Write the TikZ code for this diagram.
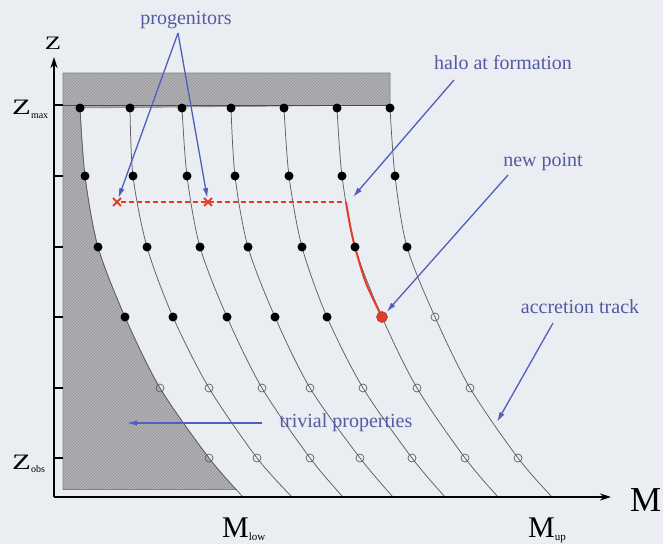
\documentclass[tikz,border=0pt]{standalone}
\usepackage{fontspec}
\setmainfont{Liberation Serif}
\usetikzlibrary{arrows.meta,shapes.misc,patterns}
\definecolor{bg}{RGB}{234,238,242}
\definecolor{lbl}{RGB}{84,90,162}
\definecolor{arr}{RGB}{80,94,188}
\definecolor{rd}{RGB}{222,62,42}
\definecolor{shade}{RGB}{178,178,182}
\definecolor{hatch}{RGB}{150,150,154}
\definecolor{trk}{RGB}{95,95,95}
\begin{document}
\begin{tikzpicture}[x=1pt,y=-1pt,
  dotb/.style={circle,fill=black,inner sep=0pt,minimum size=9pt},
  dotw/.style={circle,draw=trk,line width=0.7pt,inner sep=0pt,minimum size=8pt},
  dotr/.style={circle,fill=rd,draw=rd!80!black,line width=0.5pt,inner sep=0pt,minimum size=11pt},
  crossr/.style={cross out,draw=rd,line width=1.8pt,inner sep=0pt,minimum size=6pt},
  track/.style={draw=trk,line width=0.75pt},
  lbltext/.style={text=lbl,font=\fontsize{20}{20}\selectfont,inner sep=0pt},
  barrow/.style={draw=arr,line width=1.3pt,-{Latex[length=10pt,width=5.5pt]}},
  axisline/.style={line width=2pt,-{Stealth[length=11pt,width=7pt]}},
  tick/.style={line width=1.6pt},
  shadepath/.style={fill=shade,draw=gray,line width=0.6pt}]
\fill[bg] (0,0) rectangle (663,544);
\useasboundingbox (0,0) rectangle (663,544);
% shaded excluded region
\begin{scope}
\clip (60,70) rectangle (400,489);
\path[shadepath] (63,73) -- (390,73) -- (390,105) -- (80,108) -- plot[smooth] coordinates {(80,108) (85,176) (98,247) (125,317) (160,388) (209,458) (243,497)} -- (63,497) -- cycle;
\path[pattern=north east lines,pattern color=hatch] (63,73) -- (390,73) -- (390,105) -- (80,108) -- plot[smooth] coordinates {(80,108) (85,176) (98,247) (125,317) (160,388) (209,458) (243,497)} -- (63,497) -- cycle;
\end{scope}
\draw[gray,line width=0.6pt] (63,489) -- (237,489);
\draw[black!70,line width=0.8pt] (63,105) -- (390,105);
% tracks
\draw[track] plot[smooth] coordinates {(80,108) (85,176) (98,247) (125,317) (160,388) (209,458) (243,497)};
\draw[track] plot[smooth] coordinates {(130,108) (133,176) (147,247) (173,317) (209,388) (257,458) (292,497)};
\draw[track] plot[smooth] coordinates {(182,108) (187,176) (200,247) (227,317) (262,388) (310,458) (343,497)};
\draw[track] plot[smooth] coordinates {(231,108) (235,176) (248,247) (275,317) (310,388) (360,458) (393,497)};
\draw[track] plot[smooth] coordinates {(284,108) (289,176) (302,247) (327,317) (363,388) (412,458) (445,497)};
\draw[track] plot[smooth] coordinates {(337,108) (342,176) (355,247) (382,317) (417,388) (465,458) (498,497)};
\draw[track] plot[smooth] coordinates {(390,108) (395,176) (407,247) (435,317) (470,388) (518,458) (552,497)};
% red formation segment
\coordinate (junc) at (346,202);
\draw[rd,line width=2pt] plot[smooth] coordinates {(346,202) (350,225) (355,247) (366,283) (382,317)};
% filled dots
\foreach \x/\y/\n in {80/108/d11,130/108/d21,182/108/d31,231/108/d41,284/108/d51,337/108/d61,390/108/d71,
  85/176/d12,133/176/d22,187/176/d32,235/176/d42,289/176/d52,342/176/d62,395/176/d72,
  98/247/d13,147/247/d23,200/247/d33,248/247/d43,302/247/d53,355/247/d63,407/247/d73,
  125/317/d14,173/317/d24,227/317/d34,275/317/d44,327/317/d54}
  \node[dotb] (\n) at (\x,\y) {};
% open circles
\foreach \x/\y/\n in {435/317/d74,
  160/388/d15,209/388/d25,262/388/d35,310/388/d45,363/388/d55,417/388/d65,470/388/d75,
  209/458/d16,257/458/d26,310/458/d36,360/458/d46,412/458/d56,465/458/d66,518/458/d76}
  \node[dotw] (\n) at (\x,\y) {};
\node[dotr] (nd) at (382,317) {};
% progenitors
\node[crossr] (x1) at (117,202) {};
\node[crossr] (x2) at (208,202) {};
\draw[rd,line width=1.4pt,dash pattern=on 5pt off 3pt] (x1) -- (junc);
% axes
\coordinate (O) at (54,497);
\coordinate (xe) at (611,497);
\coordinate (ye) at (54,57);
\draw[axisline] (O) -- (xe);
\draw[axisline] (O) -- (ye);
\foreach \y in {105,176,247,317,388,458}
  \draw[tick] (54,\y) -- (63,\y);
% axis labels
\node[inner sep=0pt] (zl) at (53,43) {\fontsize{19}{19}\selectfont\scalebox{1.4}[1]{Z}};
\node[anchor=base west,inner sep=0pt] (zmax) at (12,114) {\fontsize{22}{22}\selectfont\scalebox{1.4}[1]{Z}\raisebox{-4pt}{\fontsize{10}{10}\selectfont max}};
\node[anchor=base west,inner sep=0pt] (zobs) at (12,469) {\fontsize{22}{22}\selectfont\scalebox{1.4}[1]{Z}\raisebox{-3pt}{\fontsize{10}{10}\selectfont obs}};
\node[anchor=base west,inner sep=0pt] (mlow) at (222,537) {\fontsize{30}{30}\selectfont M\raisebox{-3pt}{\fontsize{11}{11}\selectfont low}};
\node[anchor=base west,inner sep=0pt] (mup) at (528,537) {\fontsize{30}{30}\selectfont M\raisebox{-3pt}{\fontsize{11}{11}\selectfont up}};
\node[anchor=base west,inner sep=0pt] (ml) at (630,511) {\fontsize{35}{35}\selectfont M};
% annotation texts
\node[lbltext] (prog) at (186,20) {progenitors};
\node[lbltext] (halo) at (503,63) {halo at formation};
\node[lbltext] (newp) at (543,162) {new point};
\node[lbltext] (accr) at (580,307) {accretion track};
\node[lbltext] (triv) at (346,423) {trivial properties};
% annotation arrows
\coordinate (pa) at (178,33);
\draw[barrow] (pa) -- (x1);
\draw[barrow] (pa) -- (x2);
\coordinate (ha) at (454,80);
\coordinate (hb) at (353,197);
\draw[barrow] (ha) -- (hb);
\coordinate (na) at (508,175);
\draw[barrow,shorten >=1pt] (na) -- (nd);
\coordinate (aa) at (553,323);
\coordinate (ab) at (497,422);
\draw[barrow] (aa) -- (ab);
\coordinate (ta) at (262,423);
\coordinate (tb) at (127,423);
\draw[barrow] (ta) -- (tb);
\end{tikzpicture}
\end{document}
